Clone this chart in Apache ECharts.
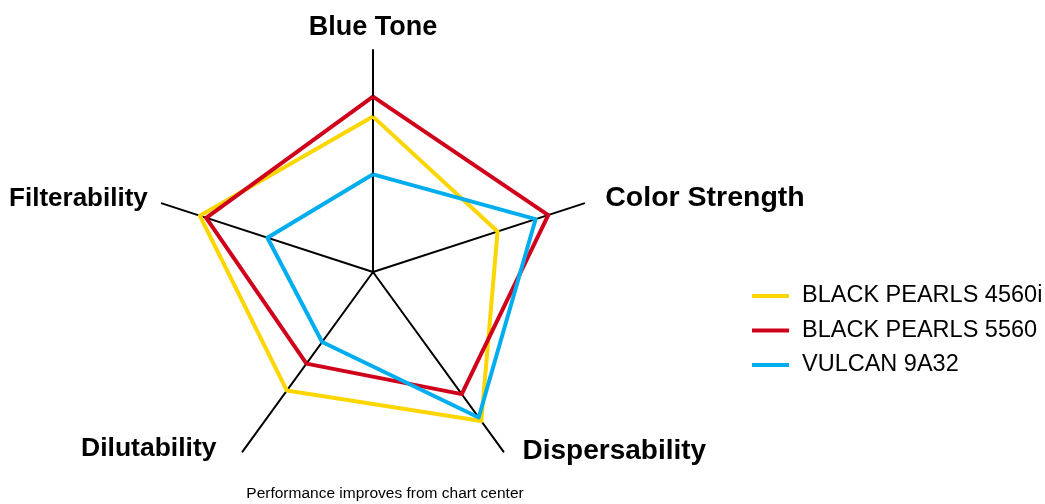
<!DOCTYPE html>
<html>
<head>
<meta charset="utf-8">
<script src="https://cdn.jsdelivr.net/npm/echarts@6/dist/echarts.min.js"></script>
<style>html,body{margin:0;padding:0;background:#fff}#c{width:1045px;height:504px}</style>
</head>
<body>
<div id="c"></div>
<script>
const indicators = ['Blue Tone', 'Filterability', 'Dilutability', 'Dispersability', 'Color Strength'];
const seriesNames = ['BLACK PEARLS 4560i', 'BLACK PEARLS 5560', 'VULCAN 9A32'];
const bp4560i = [70, 82, 66, 83, 59];
const bp5560 = [79, 79, 51, 68, 83];
const vulcan9a32 = [44, 50, 39, 81, 77];
const maxValue = 100;
const subtitle = 'Performance improves from chart center';
const colors = ['#FCD600', '#D0021B', '#00AEEF'];

// per-label text tuning (style only)
const nameStyles = {
  n0: { fontSize: 27, padding: [0, 0, 0, 0] },
  n1: { fontSize: 26, padding: [0, 6, 4, 0] },
  n2: { fontSize: 26.5, padding: [0, 21, 20, 0] },
  n3: { fontSize: 28, padding: [0, 0, 14, 14] },
  n4: { fontSize: 28.5, padding: [0, 0, 5, 13] }
};
Object.keys(nameStyles).forEach(k => {
  Object.assign(nameStyles[k], { fontWeight: 'bold', color: '#000', fontFamily: 'Liberation Sans' });
});

const chart = echarts.init(document.getElementById('c'));
const values = [bp4560i, bp5560, vulcan9a32];
chart.setOption({
  animation: false,
  textStyle: { fontFamily: 'Liberation Sans, Arial, sans-serif' },
  title: {
    text: subtitle, left: 385, top: 486, textAlign: 'center', padding: 0,
    textStyle: { fontSize: 15.5, fontWeight: 'normal', color: '#000', fontFamily: 'Liberation Sans' }
  },
  legend: {
    orient: 'vertical', left: 752, top: 284, itemGap: 10.5, padding: 0,
    icon: 'rect', itemWidth: 37, itemHeight: 4,
    data: seriesNames,
    textStyle: { fontSize: 23.5, color: '#000', fontFamily: 'Liberation Sans', padding: [0, 0, 0, 8] }
  },
  radar: {
    center: [373, 272], radius: 222, startAngle: 90,
    indicator: indicators.map(n => ({ name: n, max: maxValue })),
    shape: 'polygon', splitNumber: 1,
    axisName: {
      color: '#000', fontSize: 27, fontWeight: 'bold', fontFamily: 'Liberation Sans',
      formatter: (name) => '{n' + indicators.indexOf(name) + '|' + name + '}',
      rich: nameStyles
    },
    nameGap: 8.5,
    splitLine: { show: false }, splitArea: { show: false },
    axisLine: { lineStyle: { color: '#000', width: 2 } },
    axisTick: { show: false }, axisLabel: { show: false }
  },
  series: [{
    type: 'radar', symbol: 'none',
    data: values.map((v, i) => ({
      name: seriesNames[i], value: v,
      lineStyle: { color: colors[i], width: 4 },
      itemStyle: { color: colors[i] }
    }))
  }]
});
</script>
</body>
</html>
